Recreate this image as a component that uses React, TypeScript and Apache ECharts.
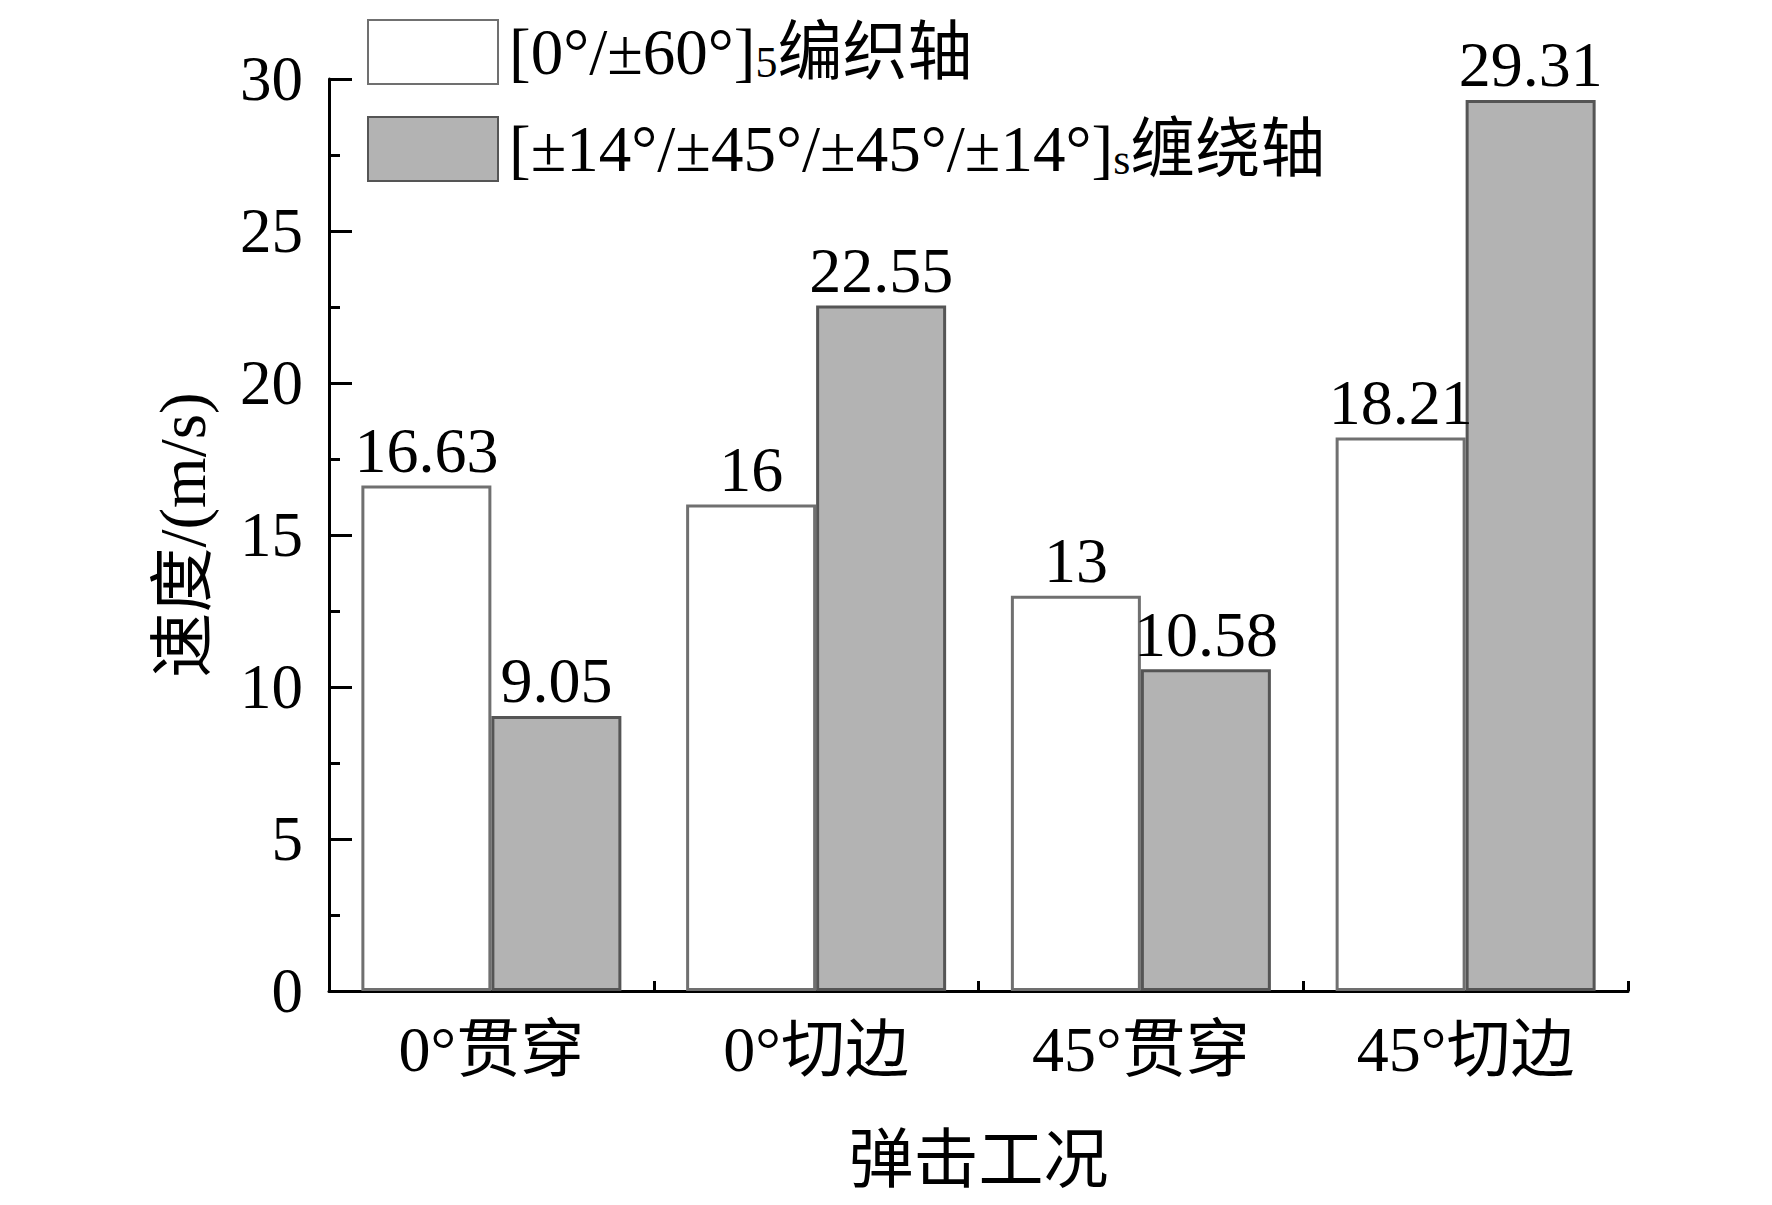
import React, { useEffect, useRef } from "react";
import * as echarts from "echarts";

const categories = ["0°贯穿", "0°切边", "45°贯穿", "45°切边"];
const braidedValues = [16.63, 16, 13, 18.21];
const woundValues = [9.05, 22.55, 10.58, 29.31];
const seriesNames = ["braided", "wound"];
const legendMain1 = ["[0°/±60°]", "[±14°/±45°/±45°/±14°]"];
const legendSub = ["5", "s"];
const legendMain2 = ["编织轴", "缠绕轴"];
const yTicks = { min: 0, max: 30, interval: 5 };
const yAxisTitle = "速度/(m/s)";
const xAxisTitle = "弹击工况";

const FONT = "'Liberation Serif', 'Times New Roman', 'Noto Sans CJK SC', serif";

export default function App() {
  const ref = useRef<HTMLDivElement>(null);
  useEffect(() => {
    if (!ref.current) return;
    const chart = echarts.init(ref.current, undefined, { renderer: "svg" });
    const labelStyle = {
      show: true,
      position: "top" as const,
      distance: 3,
      color: "#000",
      fontFamily: FONT,
      fontSize: 64,
    };
    chart.setOption({
      animation: false,
      backgroundColor: "#fff",
      textStyle: { fontFamily: FONT },
      grid: { left: 329, top: 79, right: 144, bottom: 214, containLabel: false },
      legend: {
        orient: "vertical",
        left: 362,
        top: 14,
        padding: 5,
        itemWidth: 130,
        itemHeight: 64,
        itemGap: 31,
        selectedMode: false,
        icon: "rect",
        data: seriesNames,
        formatter: (name: string) => {
          const i = seriesNames.indexOf(name);
          return `{m|${legendMain1[i]}}{s|${legendSub[i]}}{m|${legendMain2[i]}}`;
        },
        textStyle: {
          color: "#000",
          padding: [0, 0, 0, 6],
          rich: {
            m: { fontFamily: FONT, fontSize: 65, lineHeight: 64, color: "#000" },
            s: {
              fontFamily: "'Liberation Serif', serif",
              fontSize: 44,
              lineHeight: 40,
              verticalAlign: "bottom",
              color: "#000",
            },
          },
        },
      },
      xAxis: {
        type: "category",
        data: categories,
        name: xAxisTitle,
        nameLocation: "middle",
        nameGap: 136,
        nameTextStyle: { fontFamily: FONT, fontSize: 65, color: "#000" },
        axisLine: { show: true, lineStyle: { color: "#000", width: 3 } },
        axisTick: { show: true, inside: true, length: 10, lineStyle: { color: "#000", width: 3 } },
        axisLabel: { color: "#000", fontFamily: FONT, fontSize: 64, margin: 26 },
        splitLine: { show: false },
      },
      yAxis: {
        type: "value",
        min: yTicks.min,
        max: yTicks.max,
        interval: yTicks.interval,
        name: yAxisTitle,
        nameLocation: "middle",
        nameGap: 114,
        nameTextStyle: { fontFamily: FONT, fontSize: 65, color: "#000" },
        axisLine: { show: true, lineStyle: { color: "#000", width: 3 } },
        axisTick: { show: true, inside: true, length: 23, lineStyle: { color: "#000", width: 3 } },
        minorTick: { show: true, splitNumber: 2, length: 11, lineStyle: { color: "#000", width: 3 } },
        axisLabel: { color: "#000", fontFamily: FONT, fontSize: 63, margin: 26 },
        splitLine: { show: false },
      },
      series: [
        {
          name: seriesNames[0],
          type: "bar",
          data: braidedValues,
          barWidth: 130,
          barGap: "0%",
          itemStyle: { color: "#ffffff", borderColor: "#707070", borderWidth: 3 },
          label: labelStyle,
        },
        {
          name: seriesNames[1],
          type: "bar",
          data: woundValues,
          barWidth: 130,
          barGap: "0%",
          itemStyle: { color: "#b3b3b3", borderColor: "#555555", borderWidth: 3 },
          label: labelStyle,
        },
      ],
    });
    return () => chart.dispose();
  }, []);
  return (
    <div
      ref={ref}
      style={{ position: "fixed", left: 0, top: 0, width: 1772, height: 1205, background: "#fff" }}
    />
  );
}
